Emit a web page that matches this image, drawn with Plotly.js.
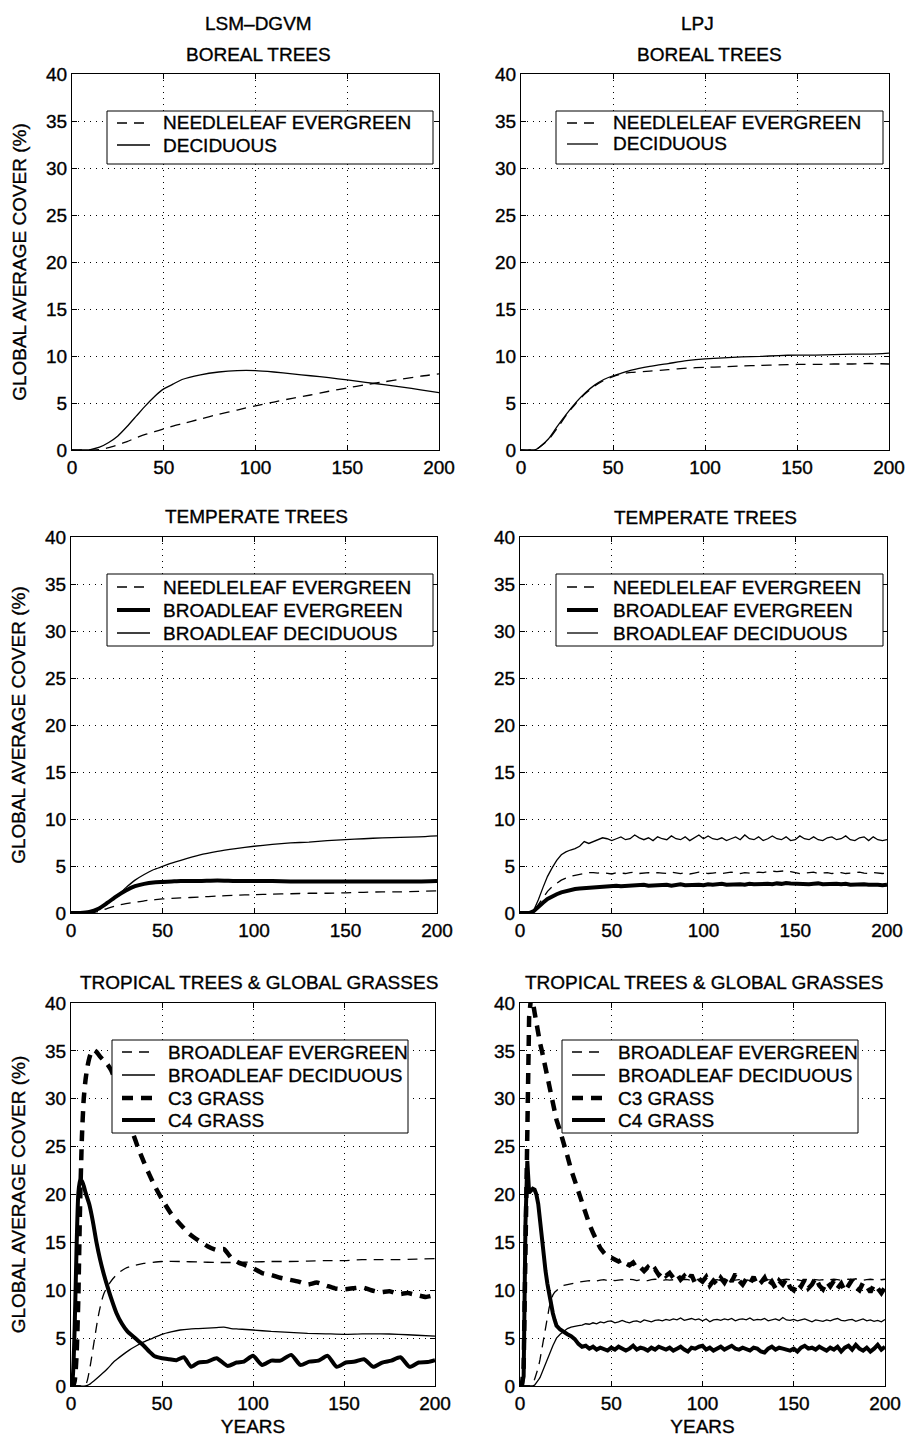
<!DOCTYPE html>
<html><head><meta charset="utf-8">
<script src="https://cdn.plot.ly/plotly-3.0.1.min.js"></script>
<style>html,body{margin:0;padding:0;background:#fff} #chart svg text{stroke:#000;stroke-width:0.35px;}</style>
</head><body><div id="chart" style="width:908px;height:1437px"></div>
<script>
// ---------------- DATA ----------------
const xTicks = [0, 50, 100, 150, 200];
const yTicks = [0, 5, 10, 15, 20, 25, 30, 35, 40];
const columnTitles = ['LSM–DGVM', 'LPJ'];
const panelTitles = ['BOREAL TREES', 'TEMPERATE TREES', 'TROPICAL TREES & GLOBAL GRASSES'];
const yTitle = 'GLOBAL AVERAGE COVER (%)';
const xTitle = 'YEARS';
const borealLabels = ['NEEDLELEAF EVERGREEN', 'DECIDUOUS'];
const temperateLabels = ['NEEDLELEAF EVERGREEN', 'BROADLEAF EVERGREEN', 'BROADLEAF DECIDUOUS'];
const tropicalLabels = ['BROADLEAF EVERGREEN', 'BROADLEAF DECIDUOUS', 'C3 GRASS', 'C4 GRASS'];

// LSM-DGVM boreal
const yrBorealLsm = [0,5,10,15,20,25,30,35,40,45,50,55,60,70,80,90,100,110,120,130,140,150,160,170,180,190,200];
const borealLsmNeedle = [0,0,0,0.05,0.25,0.55,0.9,1.3,1.65,1.95,2.25,2.55,2.8,3.3,3.8,4.25,4.7,5.1,5.5,5.85,6.25,6.6,6.95,7.25,7.55,7.85,8.1];
const borealLsmDecid = [0,0,0.05,0.3,0.8,1.5,2.5,3.6,4.7,5.7,6.5,7.0,7.5,8.0,8.3,8.45,8.45,8.3,8.1,7.9,7.7,7.45,7.2,6.95,6.7,6.4,6.1];

// LPJ boreal
const yrBorealLpj = [0,5,8,10,15,20,25,30,35,40,45,50,55,60,70,80,90,100,110,120,130,140,150,160,170,180,190,200];
const borealLpjNeedle = [0,0,0.05,0.3,1.1,2.4,3.8,5.0,6.0,6.8,7.4,7.8,8.1,8.25,8.4,8.55,8.7,8.8,8.85,8.95,9.0,9.05,9.1,9.1,9.15,9.15,9.2,9.15];
const borealLpjDecid = [0,0,0.05,0.3,1.2,2.6,3.9,5.1,6.1,6.9,7.5,7.9,8.2,8.5,8.9,9.2,9.5,9.7,9.8,9.9,9.95,10.05,10.1,10.1,10.15,10.2,10.2,10.3];

// LSM-DGVM temperate
const yrTempLsm = [0,5,10,15,20,25,30,35,40,45,50,55,60,70,80,90,100,110,120,130,140,150,160,170,180,190,200];
const tempLsmNeedle = [0,0,0,0.15,0.5,0.8,1.0,1.15,1.3,1.4,1.5,1.55,1.6,1.7,1.8,1.9,1.95,2.0,2.05,2.1,2.1,2.15,2.2,2.25,2.25,2.3,2.35];
const tempLsmBroadEver = [0,0,0.1,0.45,1.1,1.8,2.4,2.85,3.1,3.25,3.3,3.35,3.4,3.4,3.45,3.4,3.4,3.4,3.35,3.35,3.35,3.35,3.35,3.35,3.35,3.35,3.4];
const tempLsmBroadDecid = [0,0,0.1,0.45,1.0,1.8,2.7,3.5,4.1,4.6,4.95,5.3,5.6,6.15,6.55,6.85,7.1,7.3,7.45,7.55,7.7,7.8,7.9,8.0,8.05,8.1,8.2];

// LPJ temperate
const yrTempLpj = [0,2.5,5,7.5,10,12.5,15,17.5,20,22.5,25,27.5,30,32.5,35,37.5,40,42.5,45,47.5,
  50,52.5,55,57.5,60,62.5,65,67.5,70,72.5,75,77.5,80,82.5,85,87.5,90,92.5,95,97.5,
  100,102.5,105,107.5,110,112.5,115,117.5,120,122.5,125,127.5,130,132.5,135,137.5,140,142.5,145,147.5,
  150,152.5,155,157.5,160,162.5,165,167.5,170,172.5,175,177.5,180,182.5,185,187.5,190,192.5,195,197.5,200];
const tempLpjNeedle = [0,0,0,0.2,0.9,1.6,2.3,2.8,3.2,3.5,
  3.7,3.9,4.0,4.1,4.2,4.3,4.3,4.25,4.3,4.2,
  4.15,4.3,4.25,4.2,4.3,4.35,4.2,4.25,4.3,4.2,
  4.3,4.25,4.2,4.35,4.25,4.2,4.3,4.15,4.25,4.35,
  4.3,4.2,4.25,4.3,4.2,4.3,4.35,4.25,4.2,4.3,
  4.25,4.2,4.35,4.3,4.4,4.45,4.4,4.45,4.5,4.4,
  4.3,4.2,4.25,4.3,4.35,4.2,4.25,4.3,4.2,4.25,
  4.3,4.2,4.25,4.3,4.35,4.25,4.2,4.3,4.25,4.2,
  4.25];
const tempLpjBroadEver = [0,0,0,0.2,0.7,1.1,1.5,1.8,2.0,2.2,
  2.35,2.45,2.55,2.6,2.65,2.7,2.75,2.8,2.8,2.85,
  2.85,2.9,2.85,2.9,2.95,2.9,2.95,3.0,2.9,2.95,
  3.0,2.95,3.0,2.9,3.0,3.05,2.95,3.0,3.05,3.0,
  2.95,3.05,3.0,3.05,3.1,3.0,3.05,3.1,3.05,3.0,
  3.1,3.05,3.1,3.15,3.1,3.05,3.15,3.1,3.2,3.15,
  3.1,3.15,3.1,3.05,3.1,3.15,3.05,3.1,3.15,3.1,
  3.05,3.1,3.0,3.05,3.1,3.05,3.0,3.05,3.0,2.95,
  3.0];
const tempLpjBroadDecid = [0,0,0.05,0.3,1.4,2.7,3.9,4.8,5.6,6.2,
  6.5,6.7,6.85,7.1,7.6,7.4,7.6,7.8,8.0,7.9,
  7.7,7.9,8.1,7.8,7.9,8.3,8.0,7.8,8.0,7.7,
  8.1,7.9,7.8,8.2,7.9,7.8,8.1,7.7,8.0,8.3,
  7.9,8.2,7.9,7.8,8.0,7.7,7.9,8.1,7.8,8.3,
  7.9,7.8,8.1,7.7,7.9,8.2,7.9,7.8,8.1,7.7,
  7.8,8.2,7.9,7.8,8.1,7.8,7.7,8.0,8.1,7.8,
  7.9,8.2,7.8,7.7,8.0,8.1,7.7,8.1,7.8,7.7,
  7.8];

// LSM-DGVM tropical trees & grasses
const yrTropLsmBE = [0,4,6,8,9,10,11,12,13,14,15,16,17,18,20,23,26,30,35,40,50,60,70,80,90,100,110,120,130,140,150,160,170,180,190,200];
const tropLsmBroadEver = [0,0,0,0.1,0.6,1.5,2.6,3.8,5.0,6.2,7.3,8.2,9.0,9.6,10.4,11.2,11.8,12.3,12.6,12.8,13.0,13.0,12.95,12.9,12.9,12.95,13.0,13.0,13.05,13.1,13.1,13.2,13.2,13.2,13.25,13.3];
const yrTropLsmBD = [0,5,8,10,13,16,20,24,28,32,36,40,45,50,55,60,65,70,75,80,84,88,92,96,100,110,120,130,140,150,160,170,180,190,200];
const tropLsmBroadDecid = [0,0,0,0.15,0.6,1.1,1.8,2.6,3.2,3.75,4.2,4.6,5.0,5.4,5.65,5.85,5.95,6.0,6.05,6.1,6.15,6.0,5.95,5.9,5.85,5.7,5.6,5.5,5.45,5.4,5.45,5.45,5.4,5.3,5.2];
const yrTropLsmC3 = [0,1,2,3,4,5,6,7,8,9,10,11,12,13,14,16,18,20,22,25,28,31,34,37,40,43,46,50,55,60,65,70,75,80,84,88,92,96,100,105,110,115,120,125,130,135,140,145,150,155,160,165,170,175,180,185,190,195,200];
const tropLsmC3 = [0,0,0.5,3,9,19,26,30,32,33.3,34.2,34.8,35.1,35.05,34.9,34.4,34.0,33.6,33.0,31.6,29.7,27.9,26.4,24.8,23.4,22.1,20.9,19.5,18.0,16.9,15.9,15.2,14.6,14.2,14.3,13.4,12.9,12.6,12.3,11.8,11.6,11.3,11.1,10.9,10.6,10.8,10.5,10.2,10.1,10.2,10.3,10.0,9.8,9.9,9.6,9.7,9.5,9.3,9.5];
const yrTropLsmC4 = [0,1,2,3,4,5,6,7,8,10,12,14,16,18,20,22,25,28,31,34,37,40,43,46,50,54,58,62,66,70,75,80,86,91,95,100,105,110,115,121,126,131,136,141,146,151,156,161,166,171,176,181,186,191,196,200];
const tropLsmC4 = [0,1,6,14,20,21.5,21.4,20.9,20.2,19.0,17.2,15.0,13.2,11.7,10.4,9.2,7.6,6.5,5.7,5.2,4.7,4.2,3.6,3.1,2.9,2.8,2.7,3.0,2.0,2.45,2.55,2.9,2.1,2.45,2.55,3.15,2.2,2.65,2.65,3.25,2.2,2.55,2.65,3.15,2.0,2.45,2.55,2.8,2.0,2.45,2.65,3.0,2.0,2.45,2.5,2.7];

// LPJ tropical trees & grasses
const yrTropLpj = [0,1,2,3,4,5,6,7,8,9,10,11,12,13,14,15,16,17,18,19,20,
  22,24,26,28,30,32,34,36,38,40,42,44,46,48,50,52,54,56,58,60,
  62,64,66,68,70,72,74,76,78,80,82,84,86,88,90,92,94,96,98,100,
  102,104,106,108,110,112,114,116,118,120,122,124,126,128,130,132,134,136,138,140,
  142,144,146,148,150,152,154,156,158,160,162,164,166,168,170,172,174,176,178,180,
  182,184,186,188,190,192,194,196,198,200];
const tropLpjBroadEver = [0,0,0,0,0,0,0.1,0.3,0.7,1.2,1.9,2.8,3.9,5.0,6.2,7.2,8.2,8.9,9.5,9.8,10.0,
  10.3,10.5,10.6,10.7,10.8,10.85,10.9,10.95,11.0,10.9,
  11.0,11.05,11.1,11.0,11.1,11.0,11.05,11.1,11.0,11.15,
  11.1,11.0,11.1,11.05,11.0,11.1,11.15,11.1,11.0,11.1,
  11.05,11.1,11.2,11.1,11.15,11.1,11.0,11.1,11.15,11.1,
  11.2,11.1,11.05,11.1,11.0,11.1,11.15,11.1,11.05,11.1,
  11.15,11.1,11.0,11.1,11.05,11.1,11.2,11.1,11.05,11.1,
  11.0,11.1,11.15,11.1,11.05,11.1,11.0,11.05,11.1,11.15,
  11.1,11.05,11.1,11.0,11.1,11.15,11.1,11.05,11.1,11.15,
  11.1,11.2,11.1,11.05,11.1,11.15,11.1,11.2,11.1,11.15];
const tropLpjBroadDecid = [0,0,0,0,0,0,0,0.02,0.08,0.3,0.6,0.9,1.4,1.9,2.4,2.9,3.4,3.8,4.2,4.6,5.0,
  5.4,5.75,6.0,6.15,6.25,6.3,6.35,6.5,6.45,6.6,
  6.5,6.7,6.6,6.75,6.8,6.6,6.7,6.85,6.7,6.6,
  6.75,6.8,6.65,6.9,6.8,6.7,6.85,6.9,6.8,6.95,
  6.85,7.0,6.9,7.1,6.85,6.95,7.05,6.9,7.0,6.8,
  7.0,6.7,6.9,6.95,6.85,7.0,6.9,7.05,6.8,6.95,
  7.0,6.9,7.1,6.85,6.95,6.9,7.05,6.8,6.9,7.0,
  6.85,7.15,6.9,6.85,6.95,6.8,6.9,7.0,6.85,6.7,
  6.9,6.85,6.75,6.9,6.8,6.95,7.05,6.85,6.8,6.9,
  6.95,6.75,6.85,7.0,6.8,6.9,6.75,6.85,6.7,6.95];
const tropLpjC3 = [0,0,2,16,31,38.5,40.5,40.2,39.0,37.8,36.6,35.8,35.0,34.1,33.0,31.9,30.9,30.1,29.4,28.6,27.8,
  26.6,25.4,24.0,22.6,21.4,20.2,19.0,17.9,16.9,16.0,
  15.1,14.4,13.9,13.5,13.4,13.2,13.0,13.2,12.8,12.6,
  12.9,12.3,12.4,12.0,12.4,11.9,12.2,11.6,12.0,11.5,
  11.8,11.3,11.7,11.1,11.5,11.0,11.6,10.7,11.2,10.9,
  11.4,10.5,11.0,10.6,11.3,10.8,11.5,10.9,11.7,11.0,
  10.6,11.2,10.7,11.4,10.5,10.8,11.3,10.4,10.9,10.2,
  11.0,10.6,11.2,10.3,10.0,10.8,10.4,11.1,10.2,10.6,
  11.3,10.5,10.1,10.9,10.4,11.0,10.2,10.7,9.9,10.5,
  11.1,10.3,10.0,10.8,10.4,9.8,10.6,10.2,9.7,10.3];
const tropLpjC4 = [0,0,1,17,23.5,20.2,20.4,20.6,20.5,20.0,19.0,17.1,15.3,13.5,12.0,10.7,9.5,8.5,7.6,6.9,6.3,
  5.9,5.6,5.4,5.2,4.9,4.4,4.1,4.2,3.9,4.1,
  3.8,4.0,3.9,3.7,4.0,3.8,4.1,3.9,3.7,3.9,
  4.2,3.8,4.0,3.9,3.7,4.0,3.8,4.1,3.9,3.8,
  4.0,3.7,3.9,4.1,3.8,3.6,4.0,3.9,4.1,4.2,
  3.8,4.0,3.7,3.9,4.1,3.8,4.0,4.2,3.9,3.8,
  4.0,3.9,3.7,4.0,3.9,3.6,3.5,3.9,4.1,3.8,
  4.0,3.9,3.8,3.7,3.9,3.6,4.0,4.2,3.9,4.0,
  3.8,4.1,3.9,3.7,4.0,3.8,4.1,3.6,4.0,4.2,
  3.8,4.3,3.9,3.7,4.0,3.6,3.9,4.3,3.8,4.1];

// ---------------- STYLE / LAYOUT ----------------
const W = 908, H = 1437;
const FONT = 'Liberation Sans, Arial, Helvetica, sans-serif';
const fx = p => p / W;
const fy = p => 1 - p / H;
const STY = {
  thinDash: {color: '#000', width: 1.3, dash: '10px,7px'},
  thin: {color: '#000', width: 1.3, dash: 'solid'},
  thick: {color: '#000', width: 4, dash: 'solid'},
  thickDash: {color: '#000', width: 4.5, dash: '11px,8px'}
};

const panels = [
  {box: [72, 439, 74, 450], smooth: true,
   series: [[yrBorealLsm, borealLsmNeedle, 'thinDash'], [yrBorealLsm, borealLsmDecid, 'thin']],
   labels: borealLabels, leg: {b: [107, 111, 433, 164], l: [117, 150], t: 161, rows: [123, 145]}},
  {box: [521, 889, 74, 450], smooth: true,
   series: [[yrBorealLpj, borealLpjNeedle, 'thinDash'], [yrBorealLpj, borealLpjDecid, 'thin']],
   labels: borealLabels, leg: {b: [556, 111, 883, 164], l: [567, 598], t: 611, rows: [123, 144]}},
  {box: [71, 437, 537, 913], smooth: true,
   series: [[yrTempLsm, tempLsmNeedle, 'thinDash'], [yrTempLsm, tempLsmBroadEver, 'thick'], [yrTempLsm, tempLsmBroadDecid, 'thin']],
   labels: temperateLabels, leg: {b: [107, 574, 433, 646], l: [117, 150], t: 161, rows: [587, 610, 633]}},
  {box: [520, 887, 537, 913], smooth: false,
   series: [[yrTempLpj, tempLpjNeedle, 'thinDash'], [yrTempLpj, tempLpjBroadEver, 'thick'], [yrTempLpj, tempLpjBroadDecid, 'thin']],
   labels: temperateLabels, leg: {b: [556, 574, 883, 646], l: [567, 598], t: 611, rows: [587, 610, 633]}},
  {box: [71, 435, 1003, 1386], smooth: true,
   series: [[yrTropLsmBE, tropLsmBroadEver, 'thinDash'], [yrTropLsmBD, tropLsmBroadDecid, 'thin'], [yrTropLsmC3, tropLsmC3, 'thickDash'], [yrTropLsmC4, tropLsmC4, 'thick']],
   labels: tropicalLabels, leg: {b: [112, 1040, 408, 1133], l: [122, 155], t: 166, rows: [1052, 1075, 1098, 1120]}},
  {box: [520, 885, 1003, 1386], smooth: false,
   series: [[yrTropLpj, tropLpjBroadEver, 'thinDash'], [yrTropLpj, tropLpjBroadDecid, 'thin'], [yrTropLpj, tropLpjC3, 'thickDash'], [yrTropLpj, tropLpjC4, 'thick']],
   labels: tropicalLabels, leg: {b: [562, 1040, 858, 1133], l: [572, 605], t: 616, rows: [1052, 1075, 1098, 1120]}}
];

const traces = [];
const layout = {
  width: W, height: H, margin: {l: 0, r: 0, t: 0, b: 0},
  paper_bgcolor: '#fff', plot_bgcolor: '#fff', showlegend: false,
  font: {family: FONT, size: 19, color: '#000'},
  shapes: [], annotations: []
};

panels.forEach((p, i) => {
  const n = i + 1;
  const xa = 'xaxis' + (n === 1 ? '' : n), ya = 'yaxis' + (n === 1 ? '' : n);
  const xr = 'x' + (n === 1 ? '' : n), yr = 'y' + (n === 1 ? '' : n);
  const common = {
    showline: true, mirror: 'ticks', linecolor: '#000', linewidth: 1,
    ticks: 'inside', ticklen: 5, tickcolor: '#000', tickwidth: 1,
    showgrid: true, gridcolor: '#000', gridwidth: 1, griddash: '1px,5px',
    zeroline: false, tickfont: {family: FONT, size: 19, color: '#000'},
    fixedrange: true
  };
  layout[xa] = Object.assign({}, common, {
    domain: [fx(p.box[0]), fx(p.box[1])], anchor: yr, range: [0, 200],
    tickmode: 'array', tickvals: xTicks, ticktext: xTicks.map(String)
  });
  layout[ya] = Object.assign({}, common, {
    domain: [fy(p.box[3]), fy(p.box[2])], anchor: xr, range: [0, 40],
    tickmode: 'array', tickvals: yTicks, ticktext: yTicks.map(String)
  });
  if (i % 2 === 0) {
    layout[ya].title = {text: yTitle, font: {family: FONT, size: 19, color: '#000'}, standoff: 14};
  }
  if (i >= 4) {
    layout[xa].title = {text: xTitle, font: {family: FONT, size: 19, color: '#000'}, standoff: 6};
  }
  p.series.forEach((s, k) => {
    traces.push({
      type: 'scatter', mode: 'lines', x: s[0], y: s[1], xaxis: xr, yaxis: yr,
      name: p.labels[k], hoverinfo: 'skip',
      line: Object.assign({}, STY[s[2]], p.smooth ? {shape: 'spline', smoothing: 0.6} : {shape: 'linear'})
    });
  });
  // legend box
  const L = p.leg;
  layout.shapes.push({type: 'rect', xref: 'paper', yref: 'paper',
    x0: fx(L.b[0]), x1: fx(L.b[2]), y0: fy(L.b[3]), y1: fy(L.b[1]),
    line: {color: '#000', width: 1}, fillcolor: '#fff', layer: 'above'});
  p.series.forEach((s, k) => {
    layout.shapes.push({type: 'line', xref: 'paper', yref: 'paper',
      x0: fx(L.l[0]), x1: fx(L.l[1]), y0: fy(L.rows[k]), y1: fy(L.rows[k]),
      line: STY[s[2]], layer: 'above'});
    layout.annotations.push({xref: 'paper', yref: 'paper', x: fx(L.t), y: fy(L.rows[k]),
      xanchor: 'left', yanchor: 'middle', showarrow: false, text: p.labels[k],
      font: {family: FONT, size: 19, color: '#000'}});
  });
});

function title(text, x, y) {
  layout.annotations.push({xref: 'paper', yref: 'paper', x: fx(x), y: fy(y),
    xanchor: 'center', yanchor: 'middle', showarrow: false, text: text,
    font: {family: FONT, size: 19, color: '#000'}});
}
title(columnTitles[0], 258, 23);
title(columnTitles[1], 697, 23);
title(panelTitles[0], 258, 55);
title(panelTitles[0], 709, 55);
title(panelTitles[1], 256, 516);
title(panelTitles[1], 705, 517);
title(panelTitles[2], 259, 982);
title(panelTitles[2], 704, 982);

Plotly.newPlot('chart', traces, layout, {staticPlot: true, displayModeBar: false});
</script></body></html>
